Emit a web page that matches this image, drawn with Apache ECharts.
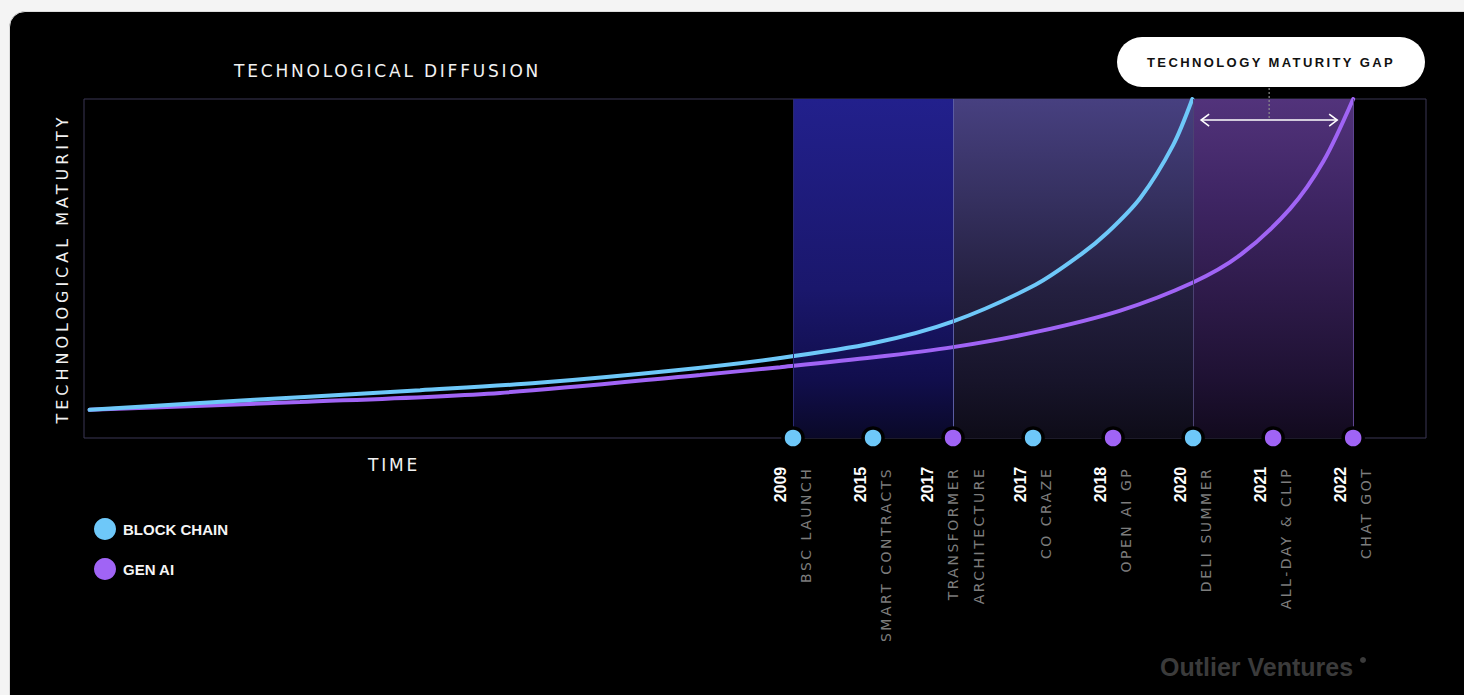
<!DOCTYPE html>
<html>
<head>
<meta charset="utf-8">
<script src="https://cdn.jsdelivr.net/npm/echarts@6/dist/echarts.min.js"></script>
<style>
html,body{margin:0;padding:0;background:#f4f4f4;width:1464px;height:695px;overflow:hidden;}
#card{position:absolute;left:9px;top:11px;width:1480px;height:720px;background:#000;border-radius:16px;border:1px solid #dcdcdc;}
#chart{position:absolute;left:0;top:0;width:1464px;height:695px;}
/* letter spacing markers (fallback family names never used for rendering) */
svg text[style*="Tahoma"]{letter-spacing:2.8px;}
svg text[style*="Verdana"]{letter-spacing:4px;}
svg text[style*="Geneva"]{letter-spacing:2.5px;}
svg text[style*="Trebuchet"]{letter-spacing:2.4px;}
</style>
</head>
<body>
<div id="card"></div>
<div id="chart"></div>
<script>
// ---- data ----
const seriesNames = ['BLOCK CHAIN', 'GEN AI'];
// time in "event slot" units (event i sits at slot i), maturity 0..100
const chainTime = [-8.79, -7.41, -6.05, -4.66, -3.18, -1.46, -0.16, 1.01, 2.0, 3.03, 3.59, 3.93, 4.34, 4.75, 4.99];
const chainMaturity = [8.3, 10.3, 12.2, 14.1, 16.3, 20.0, 23.6, 28.0, 34.4, 45.2, 54.0, 60.6, 70.8, 86.4, 100];
const aiTime = [-8.79, -6.16, -3.66, -1.16, -0.16, 1.01, 2.0, 3.04, 4.09, 4.99, 5.59, 6.21, 6.63, 7.0];
const aiMaturity = [8.3, 10.6, 13.3, 18.6, 20.9, 23.8, 26.8, 31.3, 37.6, 45.8, 54.0, 67.6, 81.7, 100];

const eventSlots = [0, 1, 2, 3, 4, 5, 6, 7];
const eventYears = ['2009', '2015', '2017', '2017', '2018', '2020', '2021', '2022'];
const eventNames = ['BSC LAUNCH', 'SMART CONTRACTS', 'TRANSFORMER\nARCHITECTURE', 'CO CRAZE', 'OPEN AI GP', 'DELI SUMMER', 'ALL-DAY & CLIP', 'CHAT GOT'];
const eventTech = ['chain', 'chain', 'ai', 'chain', 'ai', 'chain', 'ai', 'ai'];

const bandStart = [0, 2, 5];
const bandEnd = [2, 5, 7];

const gapLabel = 'TECHNOLOGY MATURITY GAP';
const gapFrom = 5.1, gapTo = 6.8, gapLevel = 93.8;

// ---- styles ----
const BLUE = '#6ec8f9';
const PURPLE = '#a064f5';
const techColor = {chain: BLUE, ai: PURPLE};
const grad = (stops) => ({type: 'linear', x: 0, y: 0, x2: 0, y2: 1,
  colorStops: stops.map(s => ({offset: s[0], color: s[1]}))});
const bandFills = [
  grad([[0, '#22208c'], [0.56, '#1a176c'], [0.83, '#110e4c'], [1, '#0a0928']]),
  grad([[0, '#474080'], [0.3, '#35305f'], [0.56, '#242040'], [0.83, '#17142a'], [1, '#0e0c18']]),
  grad([[0, '#52337b'], [0.3, '#3e2563'], [0.56, '#2f1b4b'], [0.83, '#1e1132'], [1, '#120a1e']])
];
const bandEdges = [
  {xAxis: 0, color: '#2a2970'},
  {xAxis: 2, color: '#5b5ca2'},
  {xAxis: 5, color: '#4b4272'},
  {xAxis: 7, color: '#5e4590'}
];

const chart = echarts.init(document.getElementById('chart'), null, {renderer: 'svg'});

const eventData = eventSlots.map((s, i) => ({
  value: [s, 0],
  itemStyle: {color: techColor[eventTech[i]]},
  label: {
    formatter: '{y|' + eventYears[i] + '}\n' + eventNames[i].split('\n').map(t => '{n|' + t + '}').join('\n')
  }
}));

const option = {
  backgroundColor: 'transparent',
  animation: false,
  title: [
    {text: 'TECHNOLOGICAL DIFFUSION', left: 229, top: 57,
     textStyle: {color: '#f2f2f2', fontSize: 17, fontWeight: 'normal', fontFamily: 'DejaVu Sans, Tahoma'}},
    {text: 'TIME', left: 363, top: 451,
     textStyle: {color: '#f2f2f2', fontSize: 17, fontWeight: 'normal', fontFamily: 'DejaVu Sans, Tahoma'}}
  ],
  legend: {
    data: seriesNames,
    orient: 'vertical', left: 89, top: 513, itemGap: 18,
    icon: 'circle', itemWidth: 22, itemHeight: 22,
    textStyle: {color: '#f5f5f5', fontSize: 15, fontWeight: 'bold', fontFamily: 'Liberation Sans, Arial', padding: [0, 0, 0, 2]},
    selectedMode: false
  },
  grid: {left: 84, top: 99, width: 1342, height: 339, show: true, borderColor: '#3a3654', borderWidth: 1, backgroundColor: 'transparent'},
  xAxis: {
    type: 'value', min: -8.86, max: 7.91,
    axisLine: {show: false}, axisTick: {show: false}, axisLabel: {show: false}, splitLine: {show: false}
  },
  yAxis: {
    type: 'value', min: 0, max: 100,
    name: 'TECHNOLOGICAL MATURITY', nameLocation: 'middle', nameRotate: 90, nameGap: 14,
    nameTextStyle: {color: '#f2f2f2', fontSize: 16, fontFamily: 'DejaVu Sans, Verdana'},
    axisLine: {show: false}, axisTick: {show: false}, axisLabel: {show: false}, splitLine: {show: false}
  },
  series: [
    {
      name: seriesNames[0], type: 'line', smooth: 0.3, showSymbol: false, symbol: 'none',
      data: chainTime.map((t, i) => [t, chainMaturity[i]]),
      color: BLUE, lineStyle: {color: BLUE, width: 4, cap: 'round'}, z: 4,
      markArea: {
        silent: true,
        data: bandStart.map((s, i) => [{xAxis: s, itemStyle: {color: bandFills[i]}}, {xAxis: bandEnd[i]}])
      }
    },
    {
      name: seriesNames[1], type: 'line', smooth: 0.3, showSymbol: false, symbol: 'none',
      data: aiTime.map((t, i) => [t, aiMaturity[i]]),
      color: PURPLE, lineStyle: {color: PURPLE, width: 4, cap: 'round'}, z: 3,
      markLine: {
        silent: true, symbol: 'none', label: {show: false},
        data: bandEdges.map(e => ({xAxis: e.xAxis, lineStyle: {color: e.color, width: 1, type: 'solid'}}))
      }
    },
    {
      name: 'events', type: 'scatter', clip: false, z: 10,
      symbol: 'circle', symbolSize: 20,
      itemStyle: {borderColor: '#000', borderWidth: 3.5, opacity: 1},
      data: eventData,
      label: {
        show: true, position: 'bottom', distance: 17, rotate: 90,
        align: 'right', verticalAlign: 'middle',
        rich: {
          y: {color: '#ffffff', fontSize: 16, fontWeight: 'bold', fontFamily: 'Liberation Sans, Arial', lineHeight: 26, align: 'right'},
          n: {color: '#7d7d7d', fontSize: 14, fontFamily: 'DejaVu Sans, Geneva', lineHeight: 26, align: 'right'}
        }
      }
    }
  ]
};
chart.setOption(option);

// annotation: maturity gap arrow, positioned through the chart's scales
const a = chart.convertToPixel({gridIndex: 0}, [gapFrom, gapLevel]);
const b = chart.convertToPixel({gridIndex: 0}, [gapTo, gapLevel]);
const mid = (a[0] + b[0]) / 2;
const head = 8, half = 6;
chart.setOption({
  graphic: [
    {type: 'rect', left: 1117, top: 37, shape: {width: 308, height: 50, r: 25}, style: {fill: '#ffffff'}, z: 20},
    {type: 'text', x: 1271, y: 62, z: 21,
     style: {text: gapLabel, fill: '#111', font: 'bold 13px "Liberation Sans", Trebuchet', textAlign: 'center', textVerticalAlign: 'middle'}},
    {type: 'line', z: 20, shape: {x1: mid, y1: 88, x2: mid, y2: a[1] - 2}, style: {stroke: '#8c8c8c', lineWidth: 1.2, lineDash: [2, 2]}},
    {type: 'line', z: 20, shape: {x1: a[0], y1: a[1], x2: b[0], y2: b[1]}, style: {stroke: '#ffffff', lineWidth: 1.6}},
    {type: 'polyline', z: 20, shape: {points: [[a[0] + head, a[1] - half], [a[0], a[1]], [a[0] + head, a[1] + half]]}, style: {stroke: '#ffffff', lineWidth: 1.6, fill: null}},
    {type: 'polyline', z: 20, shape: {points: [[b[0] - head, b[1] - half], [b[0], b[1]], [b[0] - head, b[1] + half]]}, style: {stroke: '#ffffff', lineWidth: 1.6, fill: null}},
    {type: 'text', x: 1160, y: 667, z: 5,
     style: {text: 'Outlier Ventures', fill: '#3b3b3b', font: 'bold 25px "Liberation Sans", Arial', textVerticalAlign: 'middle'}},
    {type: 'circle', z: 5, shape: {cx: 1363, cy: 660, r: 3}, style: {fill: '#3b3b3b'}}
  ]
});
</script>
</body>
</html>
